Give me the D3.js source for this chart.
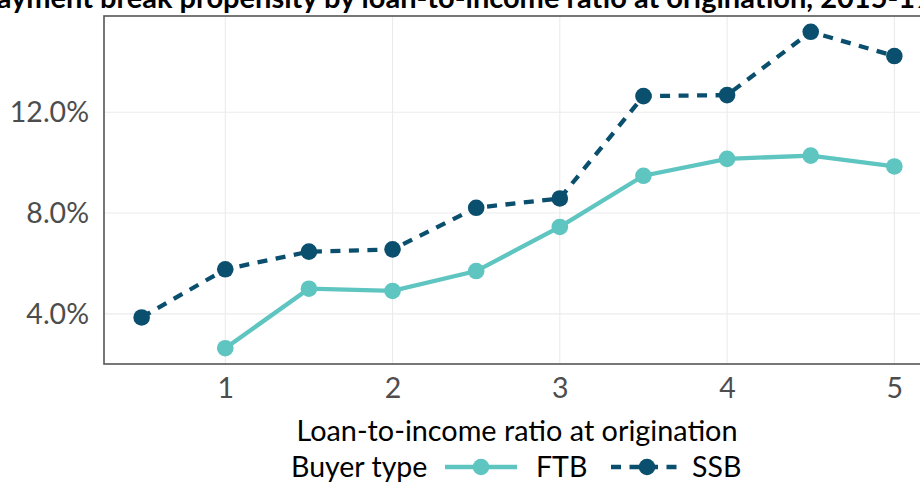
<!DOCTYPE html>
<html>
<head>
<meta charset="utf-8">
<script src="https://cdn.jsdelivr.net/npm/d3@7"></script>
<style>
  body { margin: 0; background: #fff; }
  svg { display: block; font-family: Lato, "Open Sans", sans-serif; }
</style>
</head>
<body>
<div id="chart"></div>
<script>
// data
var ltiRatio = [0.5, 1, 1.5, 2, 2.5, 3, 3.5, 4, 4.5, 5];
var ftbRate = [null, 2.64, 5.00, 4.91, 5.70, 7.45, 9.48, 10.15, 10.28, 9.85];
var ssbRate = [3.86, 5.77, 6.47, 6.56, 8.21, 8.58, 12.64, 12.68, 15.19, 14.23];
var xTicks = [1, 2, 3, 4, 5];
var yTicks = [4, 8, 12];
var seriesNames = ["FTB", "SSB"];

var width = 920, height = 482;
var pLeft = 104, pRight = 932, pTop = 16, pBottom = 364;

var colours = { FTB: "#5ec5c1", SSB: "#0a4f6d" };
var dashes = { FTB: null, SSB: "10,8.5" };

var series = [
  { name: "FTB", values: ftbRate },
  { name: "SSB", values: ssbRate }
];

// ggplot-style 5% expansion
function expand(ext) {
  var pad = (ext[1] - ext[0]) * 0.05;
  return [ext[0] - pad, ext[1] + pad];
}

var allY = ftbRate.concat(ssbRate).filter(function(v) { return v != null; });

var x = d3.scaleLinear()
  .domain(expand(d3.extent(ltiRatio)))
  .range([pLeft, pRight]);

var y = d3.scaleLinear()
  .domain(expand(d3.extent(allY)))
  .range([pBottom, pTop]);

var svg = d3.select("#chart").append("svg")
  .attr("width", width)
  .attr("height", height);

// title, mostly cropped off the top like in the picture
svg.append("text")
  .attr("x", -53)
  .attr("y", 8)
  .attr("font-size", 29)
  .attr("font-weight", "bold")
  .attr("fill", "#000")
  .text("Repayment break propensity by loan-to-income ratio at origination, 2015-19");

// grid
var grid = svg.append("g");
grid.selectAll("line.gx")
  .data(xTicks)
  .enter().append("line")
  .attr("x1", function(d) { return x(d); })
  .attr("x2", function(d) { return x(d); })
  .attr("y1", pTop).attr("y2", pBottom)
  .attr("stroke", "#ebebeb").attr("stroke-width", 1.1);
grid.selectAll("line.gy")
  .data(yTicks)
  .enter().append("line")
  .attr("y1", function(d) { return y(d); })
  .attr("y2", function(d) { return y(d); })
  .attr("x1", pLeft).attr("x2", pRight)
  .attr("stroke", "#ebebeb").attr("stroke-width", 1.1);

// lines and points
var line = d3.line()
  .defined(function(d) { return d[1] != null; })
  .x(function(d) { return x(d[0]); })
  .y(function(d) { return y(d[1]); });

series.forEach(function(s) {
  var pts = ltiRatio.map(function(r, i) { return [r, s.values[i]]; });
  svg.append("path")
    .datum(pts)
    .attr("fill", "none")
    .attr("stroke", colours[s.name])
    .attr("stroke-width", 4.3)
    .attr("stroke-dasharray", dashes[s.name])
    .attr("d", line);
  svg.append("g").selectAll("circle")
    .data(pts.filter(function(d) { return d[1] != null; }))
    .enter().append("circle")
    .attr("cx", function(d) { return x(d[0]); })
    .attr("cy", function(d) { return y(d[1]); })
    .attr("r", 8.3)
    .attr("fill", colours[s.name]);
});

// panel border
svg.append("rect")
  .attr("x", pLeft).attr("y", pTop)
  .attr("width", pRight - pLeft).attr("height", pBottom - pTop)
  .attr("fill", "none")
  .attr("stroke", "#555").attr("stroke-width", 1.6);

// axes
var xAxis = svg.append("g")
  .attr("transform", "translate(0," + pBottom + ")")
  .call(d3.axisBottom(x).tickValues(xTicks).tickSize(0).tickPadding(14)
    .tickFormat(d3.format("d")));
var yAxis = svg.append("g")
  .attr("transform", "translate(" + pLeft + ",0)")
  .call(d3.axisLeft(y).tickValues(yTicks).tickSize(0).tickPadding(15)
    .tickFormat(function(d) { return d.toFixed(1) + "%"; }));
[xAxis, yAxis].forEach(function(a) {
  a.select(".domain").remove();
  a.selectAll("text")
    .attr("font-size", 28.5)
    .attr("font-family", "Lato, sans-serif")
    .attr("fill", "#4d4d4d");
});

svg.append("text")
  .attr("x", (pLeft + pRight) / 2 - 1)
  .attr("y", 441)
  .attr("text-anchor", "middle")
  .attr("font-size", 28.8)
  .attr("fill", "#000")
  .text("Loan-to-income ratio at origination");

// legend
var legY = 467;
svg.append("text")
  .attr("x", 291)
  .attr("y", legY + 10)
  .attr("font-size", 28.5)
  .attr("fill", "#000")
  .text("Buyer type");

var keys = [
  { name: seriesNames[0], x0: 445, textX: 536 },
  { name: seriesNames[1], x0: 611, textX: 692 }
];
keys.forEach(function(k) {
  var g = svg.append("g");
  var cx = k.x0 + 36;
  g.append("line")
    .attr("x1", k.x0).attr("x2", k.x0 + 72)
    .attr("y1", legY).attr("y2", legY)
    .attr("stroke", colours[k.name])
    .attr("stroke-width", 4.3)
    .attr("stroke-dasharray", dashes[k.name]);
  g.append("circle")
    .attr("cx", cx).attr("cy", legY)
    .attr("r", 8.3)
    .attr("fill", colours[k.name]);
  g.append("text")
    .attr("x", k.textX)
    .attr("y", legY + 10)
    .attr("font-size", 28.5)
    .attr("fill", "#000")
    .text(k.name);
});
</script>
</body>
</html>
